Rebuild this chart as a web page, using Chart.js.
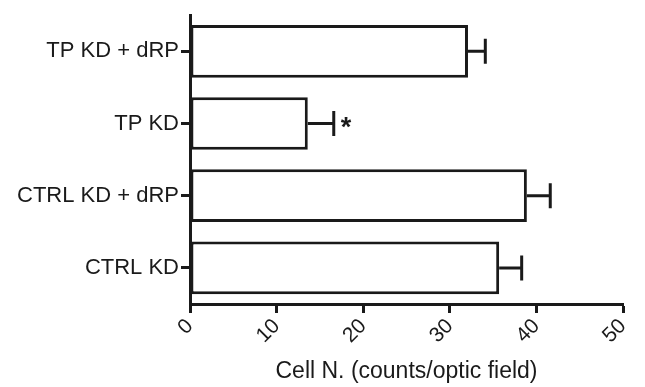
<!DOCTYPE html>
<html>
<head>
<meta charset="utf-8">
<script src="https://cdn.jsdelivr.net/npm/chart.js@4"></script>
<style>
html,body{margin:0;padding:0;background:#fff;}
#wrap{width:645px;height:387px;}
</style>
</head>
<body>
<div id="wrap"><canvas id="c" width="645" height="387"></canvas></div>
<script>
const categories = ["TP KD + dRP", "TP KD", "CTRL KD + dRP", "CTRL KD"];
const means = [32.1, 13.6, 38.9, 35.7];
const errors = [2.0, 3.0, 2.7, 2.6];
const significance = ["", "*", "", ""];
const xTicks = [0, 10, 20, 30, 40, 50];
const xTitle = "Cell N. (counts/optic field)";

const FONT = "'Liberation Sans', Arial, Helvetica, sans-serif";
const INK = "#1a1a1a";

const errorBarPlugin = {
  id: 'errorBars',
  afterDatasetsDraw(chart) {
    const ctx = chart.ctx;
    const xs = chart.scales.x, ys = chart.scales.y;
    const meta = chart.getDatasetMeta(0);
    ctx.save();
    ctx.strokeStyle = INK;
    ctx.lineWidth = 3;
    meta.data.forEach((bar, i) => {
      const y = ys.getPixelForValue(i);
      const x0 = xs.getPixelForValue(means[i]);
      const x1 = xs.getPixelForValue(means[i] + errors[i]);
      const cap = 12.5;
      ctx.beginPath();
      ctx.moveTo(x0, y); ctx.lineTo(x1, y);
      ctx.moveTo(x1, y - cap); ctx.lineTo(x1, y + cap);
      ctx.stroke();
      if (significance[i]) {
        ctx.fillStyle = INK;
        ctx.font = "bold 27px " + FONT;
        ctx.textAlign = "left";
        ctx.textBaseline = "middle";
        ctx.fillText(significance[i], x1 + 7, y + 5);
      }
    });
    ctx.restore();
  }
};

new Chart(document.getElementById('c'), {
  type: 'bar',
  data: {
    labels: categories,
    datasets: [{
      data: means,
      backgroundColor: '#ffffff',
      borderColor: INK,
      borderWidth: 3,
      borderSkipped: false,
      barPercentage: 0.73,
      categoryPercentage: 1.0
    }]
  },
  options: {
    indexAxis: 'y',
    responsive: false,
    animation: false,
    layout: { padding: { top: 14, right: 22, left: 0, bottom: 0 } },
    plugins: { legend: { display: false }, tooltip: { enabled: false } },
    scales: {
      x: {
        type: 'linear',
        min: 0, max: 50,
        afterBuildTicks(scale) { scale.ticks = xTicks.map(v => ({ value: v })); },
        afterFit(scale) { scale.height = 83; },
        border: { display: true, color: INK, width: 3 },
        grid: { display: true, drawOnChartArea: false, drawTicks: true, tickLength: 9, tickWidth: 3, tickColor: INK },
        ticks: {
          color: INK, font: { family: FONT, size: 21 },
          minRotation: 45, maxRotation: 45, padding: 1
        },
        title: { display: true, text: xTitle, color: INK, font: { family: FONT, size: 23 }, padding: { top: 0, bottom: 2 } }
      },
      y: {
        type: 'category',
        offset: true,
        afterFit(scale) { scale.width = 190; },
        border: { display: true, color: INK, width: 3 },
        grid: { display: true, offset: false, drawOnChartArea: false, drawTicks: true, tickLength: 9, tickWidth: 3, tickColor: INK },
        ticks: { color: INK, font: { family: FONT, size: 22 }, padding: 2 }
      }
    }
  },
  plugins: [errorBarPlugin]
});
</script>
</body>
</html>
